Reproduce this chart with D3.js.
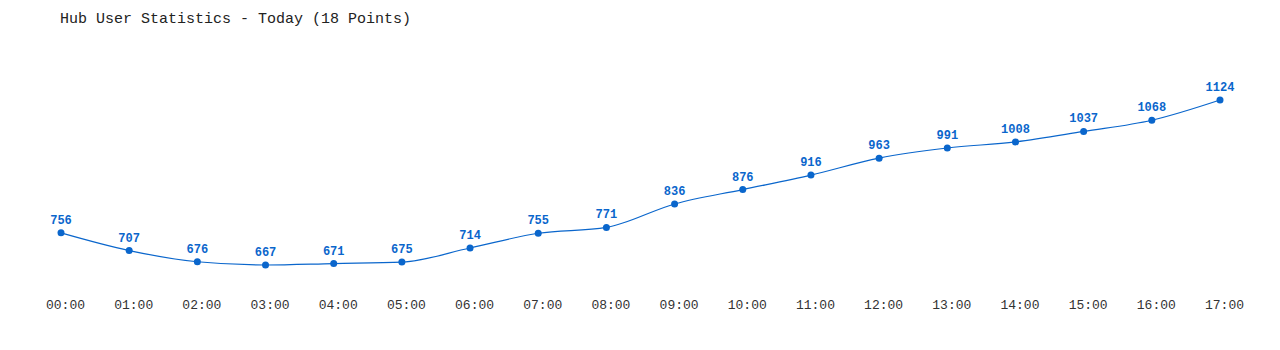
<!DOCTYPE html>
<html>
<head>
<meta charset="utf-8">
<script src="https://cdn.jsdelivr.net/npm/d3@7"></script>
<style>
  body { margin: 0; background: #fff; }
  svg text { font-family: "Liberation Mono", "DejaVu Sans Mono", monospace; }
</style>
</head>
<body>
<svg id="chart" width="1280" height="350"></svg>
<script>
// chart data
var hours = ["00:00", "01:00", "02:00", "03:00", "04:00", "05:00", "06:00", "07:00", "08:00",
             "09:00", "10:00", "11:00", "12:00", "13:00", "14:00", "15:00", "16:00", "17:00"];
var users = [756, 707, 676, 667, 671, 675, 714, 755, 771, 836, 876, 916, 963, 991, 1008, 1037, 1068, 1124];
var title = "Hub User Statistics - Today (18 Points)";

var svg = d3.select("#chart")
  , blue = "#0a66cc"
  , x = d3.scalePoint().domain(hours).range([61, 1220])
  , y = d3.scaleLinear().domain([667, 1124]).range([265, 100])
;

svg.append("text")
    .attr("x", 60)
    .attr("y", 23)
    .attr("font-size", 15)
    .attr("fill", "#222")
    .text(title);

// x axis labels only, no line
var xAxis = d3.axisBottom(x).tickSize(0).tickPadding(0);
svg.append("g")
    .attr("transform", "translate(4,300)")
    .call(xAxis)
    .call(function(g) { g.select(".domain").remove(); })
  .selectAll("text")
    .attr("font-size", 13)
    .attr("fill", "#333")
    .attr("dy", "0.71em");

var line = d3.line()
    .x(function(d, i) { return x(hours[i]); })
    .y(function(d) { return y(d); })
    .curve(d3.curveMonotoneX);

svg.append("path")
    .datum(users)
    .attr("d", line)
    .attr("fill", "none")
    .attr("stroke", blue)
    .attr("stroke-width", 1.2);

svg.selectAll(".pt")
    .data(users)
  .enter().append("circle")
    .attr("class", "pt")
    .attr("cx", function(d, i) { return x(hours[i]); })
    .attr("cy", function(d) { return y(d); })
    .attr("r", 3.5)
    .attr("fill", blue);

svg.selectAll(".lbl")
    .data(users)
  .enter().append("text")
    .attr("class", "lbl")
    .attr("x", function(d, i) { return x(hours[i]); })
    .attr("y", function(d) { return y(d) - 9; })
    .attr("text-anchor", "middle")
    .attr("font-size", 12)
    .attr("font-weight", "bold")
    .attr("fill", blue)
    .text(function(d) { return d; });
</script>
</body>
</html>
